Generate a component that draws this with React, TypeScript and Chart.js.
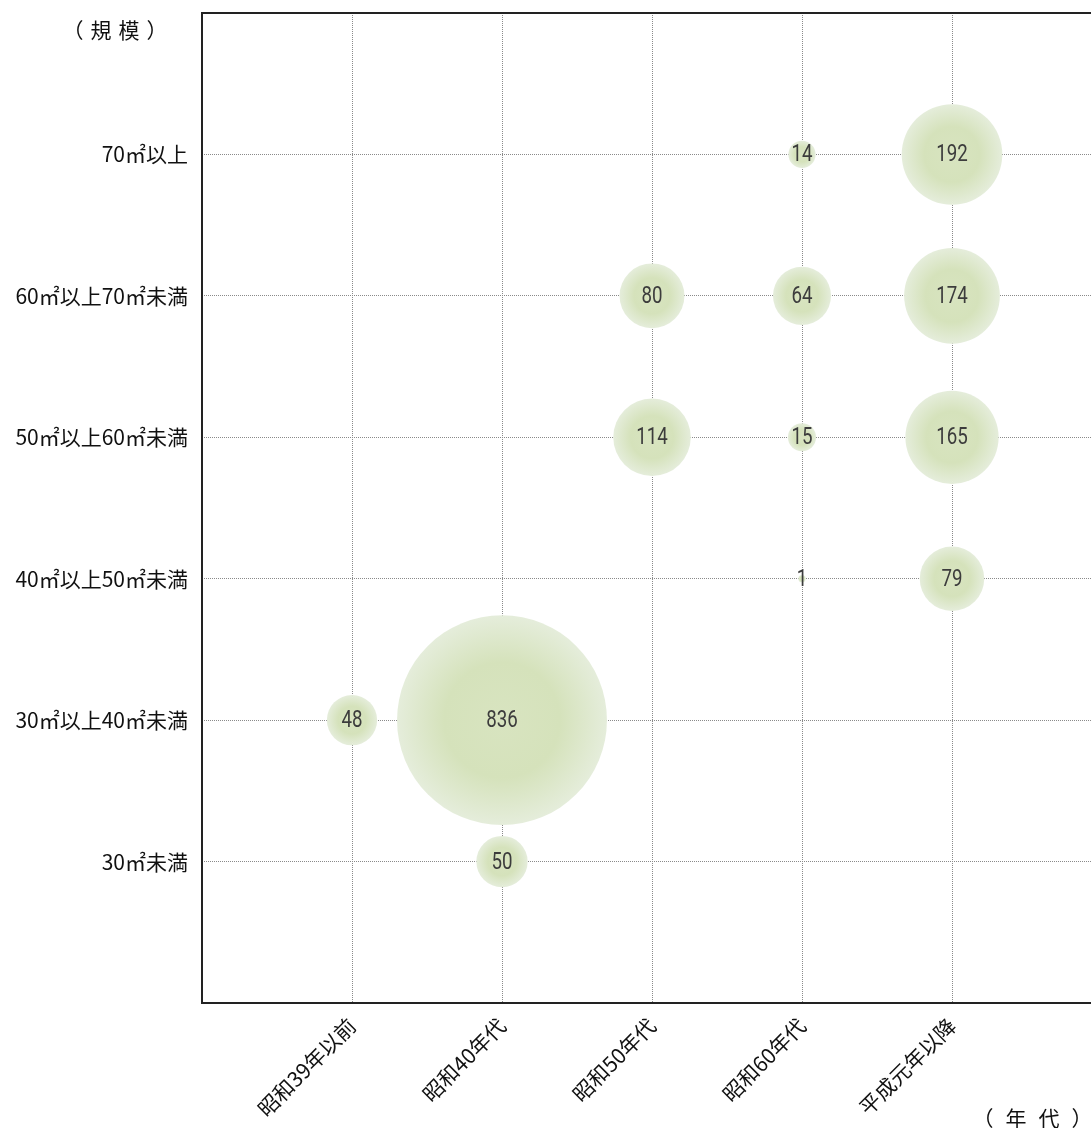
import React, { useEffect, useRef } from 'react';
import { Chart, registerables } from 'chart.js';

Chart.register(...registerables);

// ---- data ----
const periods = ['昭和39年以前', '昭和40年代', '昭和50年代', '昭和60年代', '平成元年以降'];
const sizes = ['30㎡未満', '30㎡以上40㎡未満', '40㎡以上50㎡未満', '50㎡以上60㎡未満', '60㎡以上70㎡未満', '70㎡以上'];
// counts for each period, indexed like `sizes` (null = none)
const showa39 = [null, 48, null, null, null, null];
const showa40 = [50, 836, null, null, null, null];
const showa50 = [null, null, null, 114, 80, null];
const showa60 = [null, null, 1, 15, 64, 14];
const heisei = [null, null, 79, 165, 174, 192];
const countsByPeriod = [showa39, showa40, showa50, showa60, heisei];
const yAxisTitle = ['（', '規', '模', '）'];
const xAxisTitle = ['（', '年', '代', '）'];

const RADIUS_K = 3.63;
const FONT_JP = "'Noto Sans CJK JP', 'Noto Sans', sans-serif";

type Pt = { x: number; y: number; r: number; v: number };

const points: Pt[] = [];
countsByPeriod.forEach((arr, i) => {
  arr.forEach((v, j) => {
    if (v !== null && v !== undefined) {
      points.push({ x: i + 1, y: j + 1, r: RADIUS_K * Math.sqrt(v), v });
    }
  });
});

const bubbleFill = (ctx: any) => {
  const chart = ctx.chart;
  const raw = ctx.raw as Pt | undefined;
  const fallback = 'rgb(216,228,192)';
  if (!raw || !chart.chartArea || !chart.scales.x || !chart.scales.y) return fallback;
  const cx = chart.scales.x.getPixelForValue(raw.x);
  const cy = chart.scales.y.getPixelForValue(raw.y);
  const r = Math.max(raw.r, 1);
  const g = chart.ctx.createRadialGradient(cx, cy, 0, cx, cy, r);
  g.addColorStop(0, 'rgb(216,228,192)');
  g.addColorStop(0.55, 'rgb(213,226,187)');
  g.addColorStop(1, 'rgb(229,237,219)');
  return g;
};

const labelPlugin = {
  id: 'bubbleLabels',
  afterDatasetsDraw(chart: any) {
    const ctx = chart.ctx;
    const meta = chart.getDatasetMeta(0);
    const data = chart.data.datasets[0].data as Pt[];
    ctx.save();
    ctx.fillStyle = '#3c3c3c';
    ctx.font = "24px Roboto, 'Liberation Sans', sans-serif";
    ctx.textAlign = 'center';
    ctx.textBaseline = 'middle';
    meta.data.forEach((el: any, i: number) => {
      ctx.save();
      ctx.translate(el.x, el.y + 1);
      ctx.scale(0.78, 1);
      ctx.fillText(String(data[i].v), 0, 0);
      ctx.restore();
    });
    ctx.restore();
  },
};

const framePlugin = {
  id: 'frameAndTitles',
  afterDraw(chart: any) {
    const { ctx, chartArea } = chart;
    ctx.save();
    ctx.strokeStyle = '#222';
    ctx.lineWidth = 2;
    ctx.setLineDash([]);
    ctx.strokeRect(chartArea.left, chartArea.top, chartArea.right - chartArea.left, chartArea.bottom - chartArea.top);
    ctx.fillStyle = '#111';
    ctx.font = `21px ${FONT_JP}`;
    ctx.textAlign = 'center';
    ctx.textBaseline = 'middle';
    yAxisTitle.forEach((c, i) => ctx.fillText(c, 65 + i * 28, 22));
    xAxisTitle.forEach((c, i) => ctx.fillText(c, 975 + i * 33, 1110));
    ctx.restore();
  },
};

export default function App() {
  const ref = useRef<HTMLCanvasElement | null>(null);

  useEffect(() => {
    if (!ref.current) return;
    const chart = new Chart(ref.current, {
      type: 'bubble',
      data: {
        datasets: [
          {
            data: points as any,
            backgroundColor: bubbleFill as any,
            borderWidth: 0,
          },
        ],
      },
      options: {
        responsive: false,
        animation: false,
        events: [],
        layout: { autoPadding: false, padding: { top: 5, right: 16, left: 0, bottom: 0 } },
        plugins: { legend: { display: false }, tooltip: { enabled: false } },
        scales: {
          x: {
            type: 'linear',
            min: 0,
            max: periods.length + 1,
            afterFit: (s: any) => {
              s.height = 125;
              s.paddingLeft = 0;
              s.paddingRight = 0;
            },
            border: { display: false, dash: [1, 1] },
            grid: {
              drawTicks: false,
              color: (c: any) =>
                c.tick && c.tick.value >= 1 && c.tick.value <= periods.length ? '#8a8a8a' : 'rgba(0,0,0,0)',
            },
            ticks: {
              stepSize: 1,
              autoSkip: false,
              maxRotation: 45,
              minRotation: 45,
              padding: 10,
              color: '#111',
              font: { family: FONT_JP, size: 21 },
              callback: (v: any) => (Number.isInteger(v) && v >= 1 && v <= periods.length ? periods[v - 1] : ''),
            },
          },
          y: {
            type: 'linear',
            min: 0,
            max: sizes.length + 1,
            afterFit: (s: any) => {
              s.width = 194;
              s.paddingTop = 0;
              s.paddingBottom = 0;
            },
            border: { display: false, dash: [1, 1] },
            grid: {
              drawTicks: false,
              color: (c: any) =>
                c.tick && c.tick.value >= 1 && c.tick.value <= sizes.length ? '#8a8a8a' : 'rgba(0,0,0,0)',
            },
            ticks: {
              stepSize: 1,
              autoSkip: false,
              padding: 14,
              color: '#111',
              font: { family: FONT_JP, size: 21 },
              callback: (v: any) => (Number.isInteger(v) && v >= 1 && v <= sizes.length ? sizes[v - 1] : ''),
            },
          },
        },
      },
      plugins: [labelPlugin, framePlugin],
    });
    return () => chart.destroy();
  }, []);

  return (
    <div style={{ position: 'fixed', left: 8, top: 8, width: 1083, height: 1120, overflow: 'hidden', background: '#fff' }}>
      <canvas ref={ref} width={1110} height={1120} style={{ display: 'block' }} />
    </div>
  );
}
